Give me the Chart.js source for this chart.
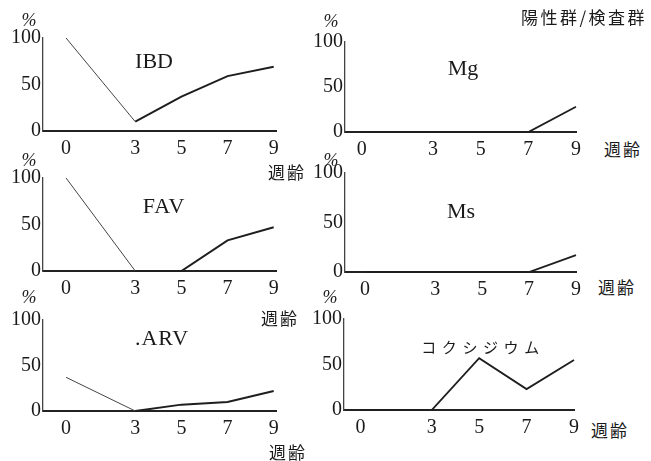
<!DOCTYPE html>
<html><head><meta charset="utf-8">
<script src="https://cdn.jsdelivr.net/npm/chart.js@4"></script>
<style>
body{margin:0;background:#fff;width:651px;height:461px;position:relative;overflow:hidden;font-family:"Liberation Serif",serif;color:#1a1a1a}
.c{position:absolute}
.t{position:absolute;white-space:nowrap;line-height:1;transform:translate(-50%,-50%)}
.jp{font-family:"Noto Sans CJK JP",sans-serif}
</style></head><body>
<script>
// ---- data ----
const weeks = [0, 3, 5, 7, 9];
const yTicks = [0, 50, 100];
const ibd = [100, 10, 37, 59, 69];
const mg = [0, 0, 0, 0, 28];
const fav = [100, 0, 0, 33, 47];
const ms = [0, 0, 0, 0, 17];
const arv = [37, 0, 7, 10, 22];
const cocci = [0, 0, 57, 23, 55];
const titles = ['IBD', 'Mg', 'FAV', 'Ms', '.ARV', 'コクシジウム'];
const xUnit = '週齢';
const yUnit = '%';
const header = '陽性群/検査群';

// ---- layout ----
const series = [ibd, mg, fav, ms, arv, cocci];
const panels = [
  {l:43, t:38, r:276, b:131, xmin:-1, xmax:9.1, thin:true},
  {l:345, t:42, r:577, b:132, xmin:-0.7, xmax:9, thin:false},
  {l:43, t:178, r:276, b:271, xmin:-1, xmax:9.1, thin:true},
  {l:345, t:173, r:577, b:272, xmin:-0.85, xmax:9, thin:false},
  {l:43, t:320, r:276, b:411, xmin:-1, xmax:9.1, thin:true},
  {l:344, t:319, r:575, b:410, xmin:-0.7, xmax:9, thin:false}
];
const YW = 42, XH = 30, PT = 14, PR = 10;
const serif = '"Liberation Serif", serif';

panels.forEach((p, i) => {
  const w = p.r - p.l + YW + PR, h = p.b - p.t + PT + XH;
  const div = document.createElement('div');
  div.className = 'c';
  div.style.left = (p.l - YW) + 'px';
  div.style.top = (p.t - PT) + 'px';
  div.style.width = w + 'px';
  div.style.height = h + 'px';
  const cv = document.createElement('canvas');
  cv.width = w; cv.height = h;
  div.appendChild(cv);
  document.body.appendChild(div);
  new Chart(cv, {
    type: 'line',
    data: {
      datasets: [{
        data: weeks.map((x, k) => ({x, y: series[i][k]})),
        borderColor: '#1e1e1e',
        borderWidth: 2,
        pointRadius: 0,
        tension: 0,
        clip: false,
        segment: {
          borderWidth: c => (p.thin && c.p0DataIndex === 0) ? 1 : (p.thin ? 2 : 1.8),
          borderColor: c => (p.thin && c.p0DataIndex === 0) ? '#444' : '#1e1e1e'
        }
      }]
    },
    options: {
      responsive: false, animation: false, events: [],
      layout: {padding: {top: PT, right: PR, left: 0, bottom: 0}},
      plugins: {legend: {display: false}, tooltip: {enabled: false}, title: {display: false}},
      scales: {
        x: {
          type: 'linear', min: p.xmin, max: p.xmax,
          afterBuildTicks: s => { s.ticks = weeks.map(v => ({value: v})); },
          afterFit: s => { s.height = XH; },
          grid: {display: false, drawTicks: false},
          border: {display: true, color: '#222', width: 2},
          ticks: {padding: 6, color: '#1a1a1a', font: {family: serif, size: 20}, maxRotation: 0, autoSkip: false,
                  callback: v => String(v)}
        },
        y: {
          type: 'linear', min: 0, max: 100,
          afterBuildTicks: s => { s.ticks = yTicks.map(v => ({value: v})); },
          afterFit: s => { s.width = YW; },
          grid: {display: false, drawTicks: false},
          border: {display: true, color: '#444', width: 1.3, dash: [5, 2]},
          ticks: {padding: 2, color: '#1a1a1a', font: {family: serif, size: 20}, callback: v => String(v)}
        }
      }
    }
  });
});

// ---- text labels ----
function label(text, x, y, css, cls) {
  const d = document.createElement('div');
  d.className = 't' + (cls ? ' ' + cls : '');
  d.textContent = text;
  d.style.left = x + 'px';
  d.style.top = y + 'px';
  d.style.cssText += css;
  document.body.appendChild(d);
}
const titlePos = [[154, 61], [463, 68], [164, 206], [461, 211], [162, 338], [483, 346]];
titles.forEach((t, i) => {
  if (i === 5) label(t, titlePos[i][0], titlePos[i][1], 'font-size:15px;letter-spacing:5.6px;', 'jp');
  else label(t, titlePos[i][0], titlePos[i][1], 'font-size:22px;letter-spacing:' + (i === 2 || i === 4 ? '1px' : '0') + ';');
});
const pctPos = [[29, 20], [331, 21], [29, 160], [331, 160], [29, 297], [330, 297]];
pctPos.forEach(q => label(yUnit, q[0], q[1], 'font-size:18px;font-style:italic;'));
const unitPos = [[287, 171], [623, 148], [280, 317], [617, 286], [288, 451], [610, 429]];
unitPos.forEach(q => label(xUnit, q[0], q[1], 'font-size:17px;letter-spacing:2px;', 'jp'));
label(header, 584, 16, 'font-size:17px;letter-spacing:2.5px;', 'jp');
</script>
</body></html>
